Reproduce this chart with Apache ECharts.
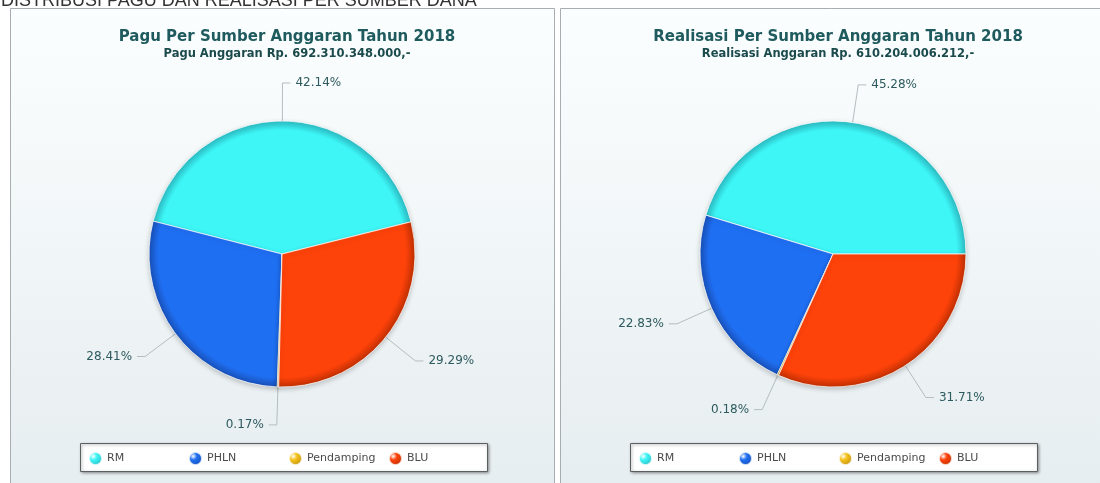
<!DOCTYPE html>
<html>
<head>
<meta charset="utf-8">
<script src="https://cdn.jsdelivr.net/npm/echarts@6/dist/echarts.min.js"></script>
<style>
html,body{margin:0;padding:0;background:#fff;}
#c{width:1100px;height:483px;}
</style>
</head>
<body>
<div id="c"></div>
<script>
// ---- data ----
const categories = ['RM', 'PHLN', 'Pendamping', 'BLU'];
const paguValues = [42.14, 28.41, 0.17, 29.29];
const realisasiValues = [45.28, 22.83, 0.18, 31.71];
const headerText = 'DISTRIBUSI PAGU DAN REALISASI PER SUMBER DANA';
const paguTitle = 'Pagu Per Sumber Anggaran Tahun 2018';
const paguSub = 'Pagu Anggaran Rp. 692.310.348.000,-';
const realTitle = 'Realisasi Per Sumber Anggaran Tahun 2018';
const realSub = 'Realisasi Anggaran Rp. 610.204.006.212,-';

// ---- styles ----
const baseColors = ['#3ef6f6', '#1f6ff2', '#f5c21a', '#fd420a'];
const rimColors  = ['#2bbcc4', '#1850b8', '#c09010', '#c03002'];
const FONT = 'DejaVu Sans';

function sliceGradient(i, cx, cy, r) {
  return {
    type: 'radial', x: cx, y: cy, r: r, global: true,
    colorStops: [
      {offset: 0, color: baseColors[i]},
      {offset: 0.93, color: baseColors[i]},
      {offset: 1, color: rimColors[i]}
    ]
  };
}
function legendIcon(i) {
  return {
    type: 'radial', x: 0.35, y: 0.35, r: 0.7,
    colorStops: [
      {offset: 0, color: '#ffffff'},
      {offset: 0.35, color: baseColors[i]},
      {offset: 1, color: rimColors[i]}
    ]
  };
}
function pieSeries(name, values, cx, cy, r, startAngle) {
  return {
    name: name,
    type: 'pie',
    center: [cx, cy],
    radius: r,
    startAngle: startAngle,
    clockwise: false,
    avoidLabelOverlap: true,
    silent: true,
    data: categories.map((c, i) => ({
      name: c, value: values[i],
      itemStyle: {
        color: sliceGradient(i, cx, cy, r),
        borderColor: 'rgba(255,255,255,0.75)', borderWidth: 1,
        shadowBlur: 5, shadowColor: 'rgba(0,0,0,0.2)', shadowOffsetY: 2
      }
    })),
    label: {
      show: true,
      formatter: p => p.value.toFixed(2) + '%',
      color: '#2d5a5e', fontFamily: FONT, fontSize: 12
    },
    labelLine: {
      show: true, length: 38, length2: 8,
      lineStyle: {color: '#b4bdbf', width: 1}
    }
  };
}
// one legend component per item so the items sit on a fixed pitch
function legendItems(boxLeft) {
  return categories.map((c, i) => ({
    left: boxLeft + 8 + i * 100, top: 451,
    orient: 'horizontal',
    itemWidth: 13, itemHeight: 13,
    icon: 'circle',
    selectedMode: false,
    padding: 0,
    textStyle: {color: '#4a4a4a', fontFamily: FONT, fontSize: 11},
    data: [{name: c, itemStyle: {color: legendIcon(i)}}]
  }));
}
function legendBox(x) {
  return {
    type: 'rect', z: 3,
    shape: {x: x + 0.5, y: 443.5, width: 407, height: 28},
    style: {fill: '#ffffff', stroke: '#5a5f62', lineWidth: 1,
      shadowBlur: 3, shadowColor: 'rgba(0,0,0,0.4)', shadowOffsetX: 1, shadowOffsetY: 1}
  };
}
function panel(x, w) {
  return {
    type: 'rect', z: -10,
    shape: {x: x + 0.5, y: 8.5, width: w, height: 490},
    style: {
      fill: {type: 'linear', x: 0, y: 0, x2: 0, y2: 1, colorStops: [
        {offset: 0, color: '#fbfefe'}, {offset: 1, color: '#e6edf0'}]},
      stroke: '#a7adb0', lineWidth: 1
    }
  };
}

const chart = echarts.init(document.getElementById('c'), null, {renderer: 'canvas'});
chart.setOption({
  animation: false,
  backgroundColor: '#ffffff',
  graphic: [
    panel(10, 544),
    panel(560, 560),
    legendBox(80),
    legendBox(630),
    {type: 'text', z: -5, style: {text: headerText, x: 1, y: 10, verticalAlign: 'bottom',
      font: '18px "Liberation Sans"', fill: '#333'}}
  ],
  title: [
    {text: paguTitle, subtext: paguSub, left: 282, top: 25, textAlign: 'center', itemGap: 3,
     textStyle: {fontFamily: FONT, fontSize: 15, fontWeight: 'bold', color: '#1f5b5e'},
     subtextStyle: {fontFamily: FONT, fontSize: 11.5, fontWeight: 'bold', color: '#1b4a4c'}},
    {text: realTitle, subtext: realSub, left: 833, top: 25, textAlign: 'center', itemGap: 3,
     textStyle: {fontFamily: FONT, fontSize: 15, fontWeight: 'bold', color: '#1f5b5e'},
     subtextStyle: {fontFamily: FONT, fontSize: 11.5, fontWeight: 'bold', color: '#1b4a4c'}}
  ],
  legend: legendItems(80).concat(legendItems(630)),
  series: [
    pieSeries('Pagu', paguValues, 282, 254, 133, 14),
    pieSeries('Realisasi', realisasiValues, 833, 254, 133, 0)
  ]
});
</script>
</body>
</html>
